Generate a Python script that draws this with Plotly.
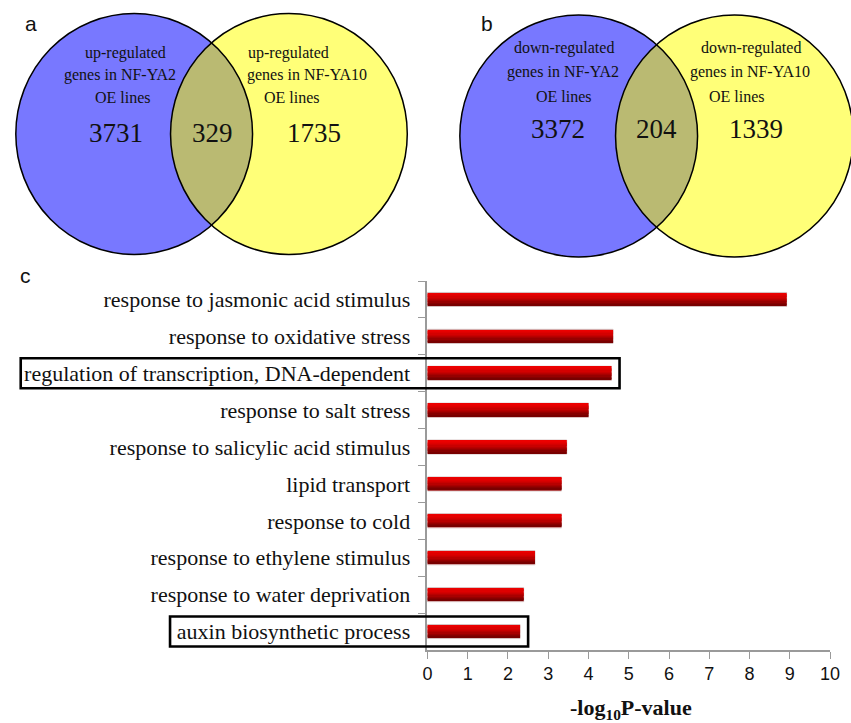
import math
import plotly.graph_objects as go

# ---------------- data ----------------
go_terms = [
    "response to jasmonic acid stimulus",
    "response to oxidative stress",
    "regulation of transcription, DNA-dependent",
    "response to salt stress",
    "response to salicylic acid stimulus",
    "lipid transport",
    "response to cold",
    "response to ethylene stimulus",
    "response to water deprivation",
    "auxin biosynthetic process",
]
neg_log10_p = [8.92, 4.61, 4.57, 4.0, 3.46, 3.33, 3.33, 2.67, 2.39, 2.30]
highlighted_terms = ["regulation of transcription, DNA-dependent", "auxin biosynthetic process"]

up_counts = [3731, 329, 1735]      # NF-YA2 only, shared, NF-YA10 only
down_counts = [3372, 204, 1339]
up_labels = ["up-regulated", "genes in NF-YA2", "OE lines"], ["up-regulated", "genes in NF-YA10", "OE lines"]
down_labels = ["down-regulated", "genes in NF-YA2", "OE lines"], ["down-regulated", "genes in NF-YA10", "OE lines"]
x_ticks = list(range(0, 11))

# ---------------- layout constants (pixels) ----------------
W, H = 851, 723
PLOT_L, PLOT_R, PLOT_T, PLOT_B = 430, 840, 281, 650
SERIF = "Liberation Serif, Times New Roman, serif"
SANS = "Liberation Sans, Arial, sans-serif"
BLUE, YELLOW, OLIVE = "#7878ff", "#ffff78", "#baba72"
X_MAX = 10.0


def px(x):
    return x / W


def py(y):
    return 1 - y / H


fig = go.Figure()

# ---------------- bar chart (c) ----------------
BAR_W = 0.38
fig.add_trace(go.Bar(
    x=neg_log10_p, y=go_terms, orientation="h", width=BAR_W,
    marker=dict(color="#c00000", line=dict(color="#d4c4c4", width=1)),
    hoverinfo="skip", showlegend=False,
))
# vertical red gradient built from thin overlaid bar slices
shades = ["#ec0000", "#e60000", "#de0000", "#d40000", "#c80000",
          "#b80000", "#a80000", "#960000", "#860000", "#780000"]
inner = BAR_W - 0.04
step = inner / len(shades)
for k, c in enumerate(shades):
    w = step * 1.35 if k < len(shades) - 1 else step
    fig.add_trace(go.Bar(
        x=neg_log10_p, y=go_terms, orientation="h",
        offset=-inner / 2 + k * step, width=w,
        marker=dict(color=c, line=dict(width=0)),
        hoverinfo="skip", showlegend=False,
    ))

fig.update_layout(
    barmode="overlay",
    xaxis=dict(
        domain=[px(PLOT_L), px(PLOT_R)], range=[0, X_MAX + 0.002],
        tickvals=x_ticks, ticktext=[str(t) for t in x_ticks],
        ticks="outside", ticklen=7, tickwidth=1.3, tickcolor="#9a9a9a",
        showline=True, linecolor="#9a9a9a", linewidth=1.6,
        showgrid=False, zeroline=False,
        tickfont=dict(family=SANS, size=18, color="#111"),
        fixedrange=True,
    ),
    yaxis=dict(
        domain=[py(PLOT_B), py(PLOT_T)], type="category",
        categoryorder="array", categoryarray=go_terms, autorange="reversed",
        tickson="boundaries", ticks="outside", ticklen=8, tickwidth=1.3,
        tickcolor="#9a9a9a", showline=True, linecolor="#9a9a9a", linewidth=1.6,
        showgrid=False, zeroline=False, ticklabelstandoff=11,
        tickfont=dict(family=SERIF, size=22, color="#111"),
        fixedrange=True,
    ),
)

shapes = []
annotations = []

# boxes around highlighted terms
n = len(go_terms)
cat_h = (PLOT_B - PLOT_T) / n
box_left_px = {"regulation of transcription, DNA-dependent": 16, "auxin biosynthetic process": 168}
for term in highlighted_terms:
    i = go_terms.index(term)
    cy = PLOT_T + (i + 0.5) * cat_h
    xr = PLOT_L + (neg_log10_p[i] + 0.2) / X_MAX * (PLOT_R - PLOT_L)
    shapes.append(dict(type="rect", xref="paper", yref="paper",
                       x0=px(box_left_px[term]), x1=px(xr),
                       y0=py(cy - 15), y1=py(cy + 15),
                       line=dict(color="black", width=2.6), fillcolor="rgba(0,0,0,0)"))

annotations.append(dict(xref="paper", yref="paper", x=px(637), y=py(709),
                        text="<b>-log<sub>10</sub>P-value</b>", showarrow=False,
                        font=dict(family=SERIF, size=22, color="#111"),
                        xanchor="center", yanchor="middle"))


# ---------------- Venn diagrams (a, b) ----------------
def lens_path(c1x, c2x, cy, r, npts=60):
    xm = (c1x + c2x) / 2
    h = math.sqrt(r * r - (xm - c1x) ** 2)
    a2 = math.atan2(h, xm - c2x)   # angle of top intersection seen from circle 2
    a1 = math.atan2(h, xm - c1x)   # seen from circle 1
    pts = []
    # left boundary: arc of circle 2 from top to bottom (through its leftmost point)
    for j in range(npts + 1):
        t = a2 + (2 * math.pi - 2 * a2) * j / npts
        pts.append((c2x + r * math.cos(t), cy - r * math.sin(t)))
    # right boundary: arc of circle 1 from bottom back to top (through its rightmost point)
    for j in range(npts + 1):
        t = -a1 + 2 * a1 * j / npts
        pts.append((c1x + r * math.cos(t), cy - r * math.sin(t)))
    return "M " + " L ".join(f"{px(x):.5f},{py(y):.5f}" for x, y in pts) + " Z"


def circle(cx, cy, r, fill, line_w):
    return dict(type="circle", xref="paper", yref="paper",
                x0=px(cx - r), x1=px(cx + r), y0=py(cy + r), y1=py(cy - r),
                fillcolor=fill, line=dict(color="black", width=line_w), layer="above")


venns = [
    dict(c1=131.5, c2=289.0, cy=134.0, r=120.5, counts=up_counts, labels=up_labels,
         count_x=[113, 211, 314.5], count_y=133,
         lab_x=([122.5, 117.5, 120], [289, 307.5, 292.5]), lab_y=[53, 75.5, 98]),
    dict(c1=584.0, c2=742.5, cy=136.0, r=121.0, counts=down_counts, labels=down_labels,
         count_x=[563, 663, 764], count_y=129,
         lab_x=([569, 568, 569], [759, 758, 745]), lab_y=[48, 72.5, 96.5]),
]

for v in venns:
    shapes.append(circle(v["c1"], v["cy"], v["r"], BLUE, 0))
    shapes.append(circle(v["c2"], v["cy"], v["r"], YELLOW, 0))
    shapes.append(dict(type="path", xref="paper", yref="paper",
                       path=lens_path(v["c1"], v["c2"], v["cy"], v["r"]),
                       fillcolor=OLIVE, line=dict(width=0)))
    shapes.append(circle(v["c1"], v["cy"], v["r"], "rgba(0,0,0,0)", 1.5))
    shapes.append(circle(v["c2"], v["cy"], v["r"], "rgba(0,0,0,0)", 1.5))
    for cx, cnt in zip(v["count_x"], v["counts"]):
        annotations.append(dict(xref="paper", yref="paper", x=px(cx), y=py(v["count_y"]),
                                text=str(cnt), showarrow=False,
                                font=dict(family=SERIF, size=27, color="#111"),
                                xanchor="center", yanchor="middle"))
    for side in range(2):
        for line_txt, lx, ly in zip(v["labels"][side], v["lab_x"][side], v["lab_y"]):
            annotations.append(dict(xref="paper", yref="paper", x=px(lx), y=py(ly),
                                    text=line_txt, showarrow=False,
                                    font=dict(family=SERIF, size=16, color="#111"),
                                    xanchor="center", yanchor="middle"))

# panel letters
for letter, lx, ly in [("a", 26, 24), ("b", 491, 24), ("c", 21, 275)]:
    annotations.append(dict(xref="paper", yref="paper", x=px(lx), y=py(ly),
                            text=letter, showarrow=False,
                            font=dict(family=SANS, size=21, color="#111"),
                            xanchor="center", yanchor="middle"))

fig.update_layout(
    width=W, height=H, margin=dict(l=0, r=0, t=0, b=0),
    paper_bgcolor="white", plot_bgcolor="white",
    shapes=shapes, annotations=annotations,
)

fig.write_html("out.html", config={"displayModeBar": False})
